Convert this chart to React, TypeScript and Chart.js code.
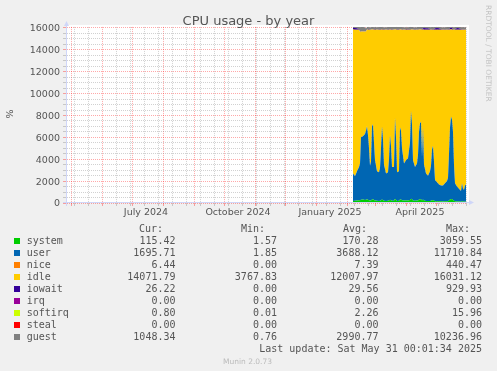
import React, { useEffect, useRef } from 'react';
import { Chart, registerables } from 'chart.js';

Chart.register(...registerables);

// ---- Data (x = days relative to 1 Jan 2025) ----
const days = [37, 39, 41, 43, 44, 45, 47, 49, 50, 51, 52, 53, 54, 55, 56, 57, 58, 59, 61, 63, 64, 65, 66, 67, 68, 70, 72, 73, 74, 75, 76, 78, 79, 80, 81, 83, 84, 85, 86, 88, 90, 92, 94, 95, 96, 97, 99, 101, 102, 103, 104, 105, 106, 107, 108, 110, 112, 114, 115, 116, 117, 118, 119, 121, 123, 125, 127, 129, 131, 132, 133, 134, 135, 136, 137, 138, 139, 141, 143, 145, 146, 147, 148, 149, 150];

const systemValues = [180, 200, 220, 250, 260, 300, 320, 280, 300, 350, 300, 260, 220, 240, 330, 350, 280, 220, 200, 190, 200, 260, 320, 270, 210, 190, 200, 230, 300, 260, 200, 210, 380, 300, 190, 200, 330, 320, 260, 220, 230, 240, 280, 400, 350, 230, 210, 220, 240, 310, 340, 350, 240, 330, 220, 190, 180, 190, 210, 250, 260, 220, 170, 160, 150, 150, 140, 150, 160, 170, 240, 320, 360, 350, 300, 200, 150, 140, 130, 120, 150, 130, 120, 130, 115];

const userValues = [2520, 2250, 2680, 3050, 3340, 5700, 5780, 6020, 6300, 6650, 5900, 4740, 3180, 3560, 6670, 6850, 5220, 3680, 2700, 2610, 3000, 4740, 6680, 5530, 3290, 2510, 2600, 3770, 5900, 4940, 3100, 3090, 7420, 5700, 2610, 2700, 6570, 6280, 4740, 3380, 3670, 3860, 5220, 8000, 6850, 3670, 3090, 3380, 4160, 6190, 6960, 7050, 3960, 6570, 3280, 2510, 2320, 2710, 3190, 4650, 4940, 3580, 1930, 1740, 1550, 1450, 1460, 1650, 1840, 2130, 4260, 6580, 7540, 7250, 6200, 3300, 1650, 1360, 1170, 980, 1650, 1170, 1080, 1470, 1585];

const niceValues = [12, 9, 10, 11, 8, 14, 13, 10, 9, 12, 11, 10, 8, 9, 13, 12, 10, 9, 8, 10, 9, 11, 13, 10, 9, 8, 9, 10, 12, 11, 9, 8, 14, 12, 8, 9, 13, 12, 10, 9, 9, 10, 11, 15, 13, 9, 8, 9, 10, 12, 13, 14, 9, 12, 9, 8, 7, 8, 9, 11, 11, 9, 7, 7, 6, 6, 6, 7, 7, 8, 10, 12, 14, 13, 11, 8, 7, 6, 6, 6, 7, 6, 6, 6, 6];

const idleValues = [13140, 13390, 12940, 12540, 12060, 9660, 9560, 9360, 9060, 8840, 9640, 10840, 12440, 12040, 8840, 8640, 10340, 11940, 12940, 13040, 12640, 10840, 8840, 10040, 12340, 13140, 13040, 11840, 9640, 10640, 12540, 12540, 8040, 9840, 13040, 12940, 8940, 9240, 10840, 12240, 11940, 11740, 10340, 7440, 8640, 11940, 12540, 12240, 11440, 9340, 8540, 8440, 11640, 8940, 12340, 13140, 13340, 12940, 12440, 10940, 10640, 12040, 13740, 13940, 14140, 14240, 14240, 14040, 13840, 13540, 11340, 8940, 7940, 8240, 9340, 12340, 14040, 14340, 14540, 14740, 14040, 14540, 14640, 14240, 14140];

const iowaitValues = [160, 150, 120, 30, 25, 30, 35, 30, 25, 30, 30, 25, 30, 25, 30, 30, 25, 30, 25, 30, 30, 25, 30, 25, 30, 25, 30, 30, 25, 30, 30, 25, 30, 25, 30, 30, 25, 30, 30, 25, 30, 25, 30, 35, 30, 25, 30, 25, 30, 30, 35, 30, 30, 130, 150, 140, 120, 30, 25, 30, 30, 30, 140, 160, 130, 30, 25, 30, 25, 30, 30, 140, 170, 150, 30, 25, 30, 150, 140, 30, 30, 25, 30, 26, 26];

const irqValues = [0, 0, 0, 0, 0, 0, 0, 0, 0, 0, 0, 0, 0, 0, 0, 0, 0, 0, 0, 0, 0, 0, 0, 0, 0, 0, 0, 0, 0, 0, 0, 0, 0, 0, 0, 0, 0, 0, 0, 0, 0, 0, 0, 0, 0, 0, 0, 0, 0, 0, 0, 0, 0, 0, 0, 0, 0, 0, 0, 0, 0, 0, 0, 0, 0, 0, 0, 0, 0, 0, 0, 0, 0, 0, 0, 0, 0, 0, 0, 0, 0, 0, 0, 0, 0];

const softirqValues = [2, 2, 3, 2, 3, 3, 3, 3, 3, 4, 3, 3, 2, 2, 3, 4, 3, 2, 2, 2, 2, 3, 3, 3, 2, 2, 2, 2, 3, 3, 2, 2, 4, 3, 2, 2, 3, 3, 3, 2, 2, 2, 3, 4, 3, 2, 2, 2, 2, 3, 3, 3, 2, 3, 2, 2, 2, 2, 2, 3, 3, 2, 1, 1, 1, 1, 1, 1, 1, 2, 2, 3, 3, 3, 3, 2, 1, 1, 1, 1, 1, 1, 1, 1, 1];

const stealValues = [0, 0, 0, 0, 0, 0, 0, 0, 0, 0, 0, 0, 0, 0, 0, 0, 0, 0, 0, 0, 0, 0, 0, 0, 0, 0, 0, 0, 0, 0, 0, 0, 0, 0, 0, 0, 0, 0, 0, 0, 0, 0, 0, 0, 0, 0, 0, 0, 0, 0, 0, 0, 0, 0, 0, 0, 0, 0, 0, 0, 0, 0, 0, 0, 0, 0, 0, 0, 0, 0, 0, 0, 0, 0, 0, 0, 0, 0, 0, 0, 0, 0, 0, 0, 0];

const guestValues = [200, 210, 200, 220, 380, 390, 380, 370, 250, 220, 210, 200, 190, 200, 220, 210, 200, 200, 190, 200, 200, 210, 220, 200, 190, 200, 210, 200, 220, 210, 300, 320, 220, 210, 300, 280, 200, 210, 200, 200, 190, 200, 220, 300, 310, 200, 190, 200, 290, 300, 210, 200, 200, 210, 200, 190, 200, 210, 200, 220, 200, 190, 200, 210, 200, 190, 200, 200, 210, 200, 220, 200, 210, 200, 190, 200, 210, 200, 190, 200, 200, 210, 200, 200, 200];

// ---- Legend table ----
const seriesNames = ['system', 'user', 'nice', 'idle', 'iowait', 'irq', 'softirq', 'steal', 'guest'];
const seriesColors = ['#00CC00', '#0066B3', '#FF8000', '#FFCC00', '#330099', '#990099', '#CCFF00', '#FF0000', '#808080'];
const curValues = [115.42, 1695.71, 6.44, 14071.79, 26.22, 0.0, 0.8, 0.0, 1048.34];
const minValues = [1.57, 1.85, 0.0, 3767.83, 0.0, 0.0, 0.01, 0.0, 0.76];
const avgValues = [170.28, 3688.12, 7.39, 12007.97, 29.56, 0.0, 2.26, 0.0, 2990.77];
const maxValues = [3059.55, 11710.84, 440.47, 16031.12, 929.93, 0.0, 15.96, 0.0, 10236.96];
const columnHeaders = ['Cur:', 'Min:', 'Avg:', 'Max:'];

// ---- Axes ----
const xMin = -249;
const xMax = 151;
const xMonthStartDays = [-245, -214, -184, -153, -122, -92, -61, -31, 0, 31, 59, 90, 120];
const xMinorFirstDay = -242;
const xMinorStep = 14;
const xLabelDays = [-170, -78, 14, 104];
const xLabels = ['July 2024', 'October 2024', 'January 2025', 'April 2025'];
const yTickValues = [0, 2000, 4000, 6000, 8000, 10000, 12000, 14000, 16000];
const yTickLabels = ['0', '2000', '4000', '6000', '8000', '10000', '12000', '14000', '16000'];
const yMinorStep = 500;
const yMax = 16100;

const MAJOR = 'rgba(255,0,0,0.34)';
const MINOR = 'rgba(128,128,128,0.36)';
const AXIS = '#CFD6F8';
const FONT_COLOR = '#555555';

type Kind = 'major' | 'minor' | 'label';
function buildXTicks(): Map<number, Kind> {
  const m = new Map<number, Kind>();
  for (let d = xMinorFirstDay; d <= xMax; d += xMinorStep) m.set(d, 'minor');
  xMonthStartDays.forEach((d) => m.set(d, 'major'));
  xLabelDays.forEach((d) => { if (!m.has(d)) m.set(d, 'label'); });
  return m;
}
const xTickKinds = buildXTicks();

function fmt(v: number) {
  return v.toFixed(2);
}

const plotPlugin = {
  id: 'muninFrame',
  beforeDraw(chart: any) {
    const { ctx, chartArea } = chart;
    ctx.save();
    ctx.fillStyle = '#FFFFFF';
    ctx.fillRect(chartArea.left, chartArea.top - 2, chartArea.right - chartArea.left + 2, chartArea.bottom - chartArea.top + 2);
    ctx.restore();
  },
  afterDraw(chart: any) {
    const { ctx, chartArea } = chart;
    const { left, right, top, bottom } = chartArea;
    ctx.save();
    ctx.strokeStyle = AXIS;
    ctx.fillStyle = AXIS;
    ctx.lineWidth = 1;
    const ax = left - 0.5;
    const ay = bottom - 0.5;
    ctx.beginPath();
    ctx.moveTo(ax, bottom + 3);
    ctx.lineTo(ax, top - 2);
    ctx.moveTo(left - 4, ay);
    ctx.lineTo(right + 3, ay);
    ctx.stroke();
    ctx.beginPath();
    ctx.moveTo(ax, top - 6);
    ctx.lineTo(ax - 2.5, top - 1);
    ctx.lineTo(ax + 2.5, top - 1);
    ctx.closePath();
    ctx.fill();
    ctx.beginPath();
    ctx.moveTo(right + 7, ay);
    ctx.lineTo(right + 2, ay - 2.5);
    ctx.lineTo(right + 2, ay + 2.5);
    ctx.closePath();
    ctx.fill();
    ctx.restore();
  },
};

const seriesValues = [systemValues, userValues, niceValues, idleValues, iowaitValues, irqValues, softirqValues, stealValues, guestValues];

export default function App() {
  const ref = useRef<HTMLCanvasElement>(null);

  useEffect(() => {
    if (!ref.current) return;
    const datasets = seriesNames.map((name, i) => ({
      label: name,
      data: days.map((d, j) => ({ x: d, y: seriesValues[i][j] })),
      backgroundColor: seriesColors[i],
      borderColor: seriesColors[i],
      borderWidth: 0,
      pointRadius: 0,
      tension: 0,
      fill: i === 0 ? 'origin' : '-1',
    }));

    const chart = new Chart(ref.current, {
      type: 'line',
      data: { datasets: datasets as any },
      plugins: [plotPlugin],
      options: {
        responsive: false,
        animation: false,
        events: [],
        layout: { padding: { left: 0, right: 30, top: 26.906, bottom: 148 } },
        plugins: {
          legend: { display: false },
          tooltip: { enabled: false },
          title: { display: false },
        },
        scales: {
          x: {
            type: 'linear',
            min: xMin,
            max: xMax,
            z: 1,
            afterBuildTicks(scale: any) {
              scale.ticks = Array.from(xTickKinds.keys())
                .sort((a, b) => a - b)
                .map((v) => ({ value: v }));
            },
            afterFit(scale: any) {
              scale.height = 20;
            },
            grid: {
              drawTicks: true,
              tickLength: 3,
              lineWidth: 1,
              color: (c: any) => {
                const k = c.tick ? xTickKinds.get(c.tick.value) : undefined;
                return k === 'major' ? MAJOR : k === 'minor' ? MINOR : 'rgba(0,0,0,0)';
              },
              tickColor: (c: any) => {
                const k = c.tick ? xTickKinds.get(c.tick.value) : undefined;
                return k === 'major' ? MAJOR : k === 'minor' ? MINOR : 'rgba(0,0,0,0)';
              },
            },
            border: { display: false, dash: [1, 1] },
            ticks: {
              autoSkip: false,
              maxRotation: 0,
              minRotation: 0,
              padding: 1,
              color: FONT_COLOR,
              font: { family: 'DejaVu Sans', size: 9.5 },
              callback: (v: any) => {
                const idx = xLabelDays.indexOf(Number(v));
                return idx >= 0 ? xLabels[idx] : '';
              },
            },
          },
          y: {
            type: 'linear',
            stacked: true,
            min: 0,
            max: yMax,
            z: 1,
            afterBuildTicks(scale: any) {
              const t: { value: number }[] = [];
              for (let v = 0; v <= yTickValues[yTickValues.length - 1]; v += yMinorStep) t.push({ value: v });
              scale.ticks = t;
            },
            afterFit(scale: any) {
              scale.width = 67;
            },
            grid: {
              drawTicks: true,
              tickLength: 4,
              lineWidth: 1,
              color: (c: any) => (c.tick && yTickValues.includes(c.tick.value) ? MAJOR : MINOR),
              tickColor: (c: any) => (c.tick && yTickValues.includes(c.tick.value) ? MAJOR : MINOR),
            },
            border: { display: false, dash: [1, 1] },
            ticks: {
              autoSkip: false,
              padding: 3,
              labelOffset: 1,
              color: FONT_COLOR,
              font: { family: 'DejaVu Sans', size: 9.5 },
              callback: (v: any) => {
                const idx = yTickValues.indexOf(Number(v));
                return idx >= 0 ? yTickLabels[idx] : '';
              },
            },
          },
        },
      } as any,
    });
    return () => chart.destroy();
  }, []);

  const colRight = [175.5, 277, 378.5, 482];
  const headRight = [163, 265, 367, 470];
  const cols = [curValues, minValues, avgValues, maxValues];
  const mono = "'DejaVu Sans Mono', monospace";
  const rowTop = (i: number) => 235 + i * 12;

  return (
    <div style={{ position: 'absolute', left: 0, top: 0, width: 497, height: 371, background: '#F0F0F0', overflow: 'hidden', fontFamily: "'DejaVu Sans', sans-serif" }}>
      <canvas ref={ref} width={497} height={371} style={{ position: 'absolute', left: 0, top: 0, width: 497, height: 371 }} />
      <div style={{ position: 'absolute', left: 0, top: 13, width: 497, textAlign: 'center', fontSize: 13, lineHeight: '15px', color: FONT_COLOR, whiteSpace: 'nowrap' }}>
        CPU usage - by year
      </div>
      <div style={{ position: 'absolute', left: 4, top: 108, width: 12, height: 12, lineHeight: '12px', fontSize: 9.5, textAlign: 'center', color: FONT_COLOR, transform: 'rotate(-90deg)' }}>
        %
      </div>
      <div style={{ position: 'absolute', left: 491.5, top: 5, height: 8, lineHeight: '8px', fontSize: 7.5, color: '#C4C4C4', whiteSpace: 'nowrap', transformOrigin: '0 0', transform: 'rotate(90deg)' }}>
        RRDTOOL / TOBI OETIKER
      </div>
      {columnHeaders.map((h, c) => (
        <div key={'h' + c} style={{ position: 'absolute', right: 497 - headRight[c], top: 223, lineHeight: '12px', fontSize: 10, fontFamily: mono, color: FONT_COLOR, whiteSpace: 'pre' }}>
          {h}
        </div>
      ))}
      {seriesNames.map((name, i) => (
        <React.Fragment key={name}>
          <div style={{ position: 'absolute', left: 14, top: rowTop(i) + 3, width: 6, height: 6, background: seriesColors[i] }} />
          <div style={{ position: 'absolute', left: 26.7, top: rowTop(i), lineHeight: '12px', fontSize: 10, fontFamily: mono, color: FONT_COLOR, whiteSpace: 'pre' }}>
            {name}
          </div>
          {cols.map((arr, c) => (
            <div key={c} style={{ position: 'absolute', right: 497 - colRight[c], top: rowTop(i), lineHeight: '12px', fontSize: 10, fontFamily: mono, color: FONT_COLOR, whiteSpace: 'pre' }}>
              {fmt(arr[i])}
            </div>
          ))}
        </React.Fragment>
      ))}
      <div style={{ position: 'absolute', right: 497 - 482, top: 343, lineHeight: '12px', fontSize: 10, fontFamily: mono, color: FONT_COLOR, whiteSpace: 'pre' }}>
        Last update: Sat May 31 00:01:34 2025
      </div>
      <div style={{ position: 'absolute', left: 0, width: 495, top: 357, lineHeight: '9px', fontSize: 7.5, textAlign: 'center', color: '#BBBBBB', whiteSpace: 'nowrap' }}>
        Munin 2.0.73
      </div>
    </div>
  );
}
